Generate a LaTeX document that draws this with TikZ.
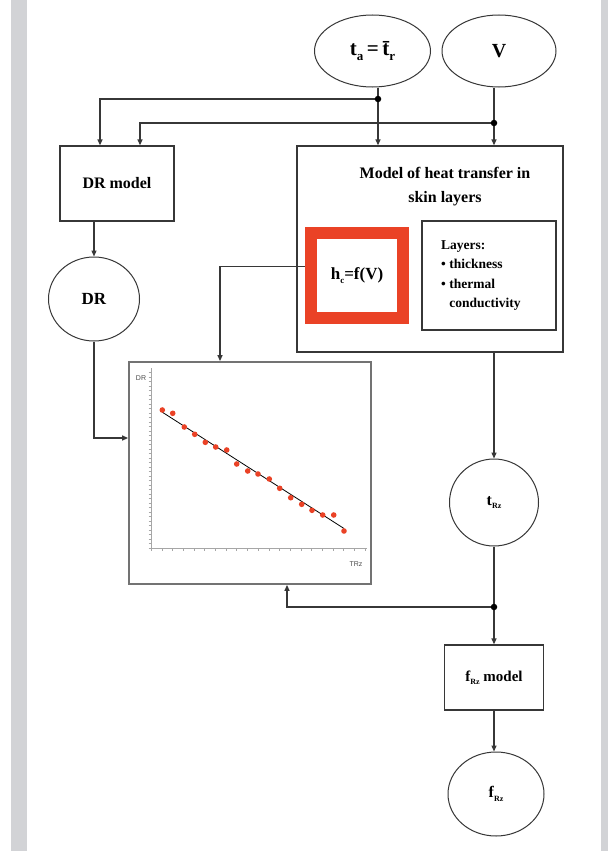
\documentclass[tikz,border=0pt]{standalone}
\usepackage{fontspec}
\setmainfont{Liberation Serif}
\setsansfont{Liberation Sans}
\usetikzlibrary{shapes.geometric,arrows.meta}
\definecolor{barg}{RGB}{210,211,214}
\definecolor{redb}{RGB}{234,66,38}
\definecolor{ln}{RGB}{55,55,55}
\newcommand\mysub[2][8]{\raisebox{-0.22em}{\fontsize{#1}{#1}\selectfont #2}}
\begin{document}
\begin{tikzpicture}[x=1pt,y=-1pt,
  ln/.style={draw=ln, line width=1.3pt},
  arr/.style={draw=ln, line width=1.3pt, -{Triangle[length=6pt,width=5pt]}},
  boxn/.style={draw=ln, line width=1.3pt, rectangle, inner sep=0pt},
  elln/.style={draw=ln, line width=1pt, ellipse, inner sep=0pt},
  dotn/.style={circle, fill=black, inner sep=0pt, minimum size=6.5pt},
  tick/.style={draw=black!35, line width=0.4pt}]
\useasboundingbox (0,0) rectangle (608,851);
\fill[white] (0,0) rectangle (608,851);
\fill[barg] (11,0) rectangle (27,851);
\fill[barg] (601,0) rectangle (608,851);

% nodes
\node[elln, minimum width=116, minimum height=72] (ta) at (372.5,51)
  {\bfseries\fontsize{21}{24}\selectfont t\mysub[13]{a}\,=\,\={t}\mysub[13]{r}};
\node[elln, minimum width=114, minimum height=72] (V) at (499,51)
  {\bfseries\fontsize{20}{24}\selectfont V};
\node[boxn, minimum width=114, minimum height=75] (drm) at (117,183.5)
  {\bfseries\fontsize{16}{18}\selectfont DR model};
\node[elln, minimum width=91, minimum height=84] (dr) at (94,299)
  {\bfseries\fontsize{17}{20}\selectfont DR};
\node[boxn, minimum width=266, minimum height=206] (big) at (430,249) {};
\node[align=center, font={\bfseries\fontsize{16}{24}\selectfont}] (title) at (445,187)
  {Model of heat transfer in\\skin layers};
\node[draw=redb, line width=12pt, minimum width=92.5, minimum height=84.5, inner sep=0pt, fill=white] (hc) at (357,275.5)
  {\bfseries\fontsize{17}{20}\selectfont h\mysub[9]{c}=f(V)};
\node[boxn, minimum width=134, minimum height=109] (lay) at (489,275.5) {};
\node[anchor=north west, align=left, inner sep=0pt, font={\bfseries\fontsize{13.5}{19.5}\selectfont}] (laytxt) at (441,240)
  {Layers:\\\textbullet\ thickness\\\textbullet\ thermal\\\phantom{\textbullet\ }conductivity};
\node[draw=black!55, line width=1.8pt, minimum width=242, minimum height=222, inner sep=0pt] (chart) at (250,473) {};
\node[elln, minimum width=89, minimum height=87] (trz) at (494,502.5)
  {\bfseries\fontsize{16}{18}\selectfont t\mysub[8]{Rz}};
\node[boxn, minimum width=99, minimum height=65] (fm) at (494,677.5)
  {\bfseries\fontsize{15}{18}\selectfont f\mysub[8]{Rz} model};
\node[elln, minimum width=96, minimum height=84] (fr) at (496,794)
  {\bfseries\fontsize{16}{18}\selectfont f\mysub[8]{Rz}};

% junctions
\coordinate (j1) at (378,99);
\coordinate (j2) at (494,123);
\coordinate (k1) at (100,99);
\coordinate (k2) at (140,123);
\coordinate (k3) at (94,438);
\coordinate (k4) at (220,266.5);
\coordinate (j3) at (494,607);
\coordinate (k5) at (287,607);

% connectors
\draw[ln] (ta.south -| j1) -- (j1);
\draw[arr] (j1) -- (j1 |- big.north);
\draw[arr] (j1) -- (k1) -- (k1 |- drm.north);
\draw[ln] (V.south -| j2) -- (j2);
\draw[arr] (j2) -- (j2 |- big.north);
\draw[arr] (j2) -- (k2) -- (k2 |- drm.north);
\draw[arr] (drm.south -| dr.north) -- (dr.north);
\draw[arr] (dr.south) -- (k3) -- (k3 -| chart.west);
\draw[arr] (hc.west |- k4) -- (k4) -- (k4 |- chart.north);
\draw[arr] (big.south -| trz.north) -- (trz.north);
\draw[ln] (trz.south) -- (j3);
\draw[arr] (j3) -- (fm.north);
\draw[arr] (j3) -- (k5) -- (k5 |- chart.south);
\draw[arr] (fm.south) -- (fm.south |- fr.north);
\node[dotn] (d1) at (j1) {};
\node[dotn] (d2) at (j2) {};
\node[dotn] (d3) at (j3) {};

% chart contents
\draw[draw=black!35, line width=0.6pt] (151,368) -- (151,548) -- (367,548);
\foreach \i in {0,...,39} \draw[tick] (148.5,{548-\i*4.5}) -- (151,{548-\i*4.5});
\foreach \i in {0,...,20} \draw[tick] ({151+\i*10.7},548) -- ({151+\i*10.7},550.5);
\node[font={\sffamily\fontsize{7}{8}\selectfont}, text=black!70, inner sep=0pt] (dry) at (141,378) {DR};
\node[font={\sffamily\fontsize{7}{8}\selectfont}, text=black!70, inner sep=0pt] (trx) at (356,564) {TRz};
\draw[black, line width=0.8pt] (162,412) -- (344,528.5);
\foreach \x/\y in {162.3/410,172.7/413.3,184.3/427,194.7/434.3,205.3/442.3,215.7/447,226.7/450,236.7/464,247.7/471,258/474,269.3/479,279.7/488.3,290.7/497.7,301.7/504.3,312/510.3,322.7/515,333.7/515,344/531}
  \fill[redb] (\x,\y) circle (2.8);
\end{tikzpicture}
\end{document}
